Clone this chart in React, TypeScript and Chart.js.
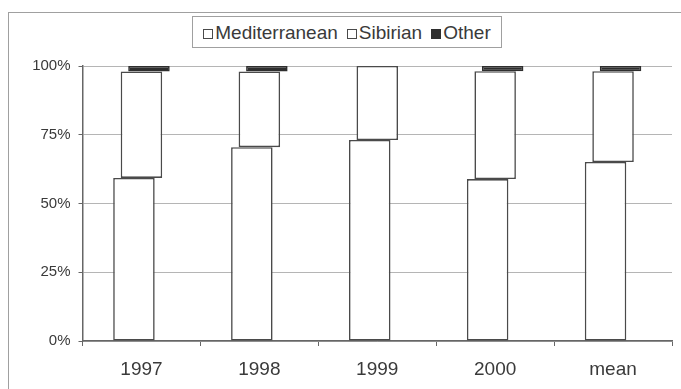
import React, { useEffect, useRef } from "react";
import { Chart, registerables } from "chart.js";

Chart.register(...registerables);

const categories = ["1997", "1998", "1999", "2000", "mean"];
const mediterranean = [59.3, 70.5, 73.1, 58.9, 65.1];
const sibirian = [38.7, 27.5, 26.9, 39.2, 33.0];
const other = [2.0, 2.0, 0, 1.9, 1.9];
const yTicks = [0, 25, 50, 75, 100];
const seriesNames = ["Mediterranean", "Sibirian", "Other"];

const FONT = "'Liberation Sans', Arial, sans-serif";
const EDGE = "#4a4a4a";
const TEXT = "#3a3a3a";
const DARK = "#2e2e2e";

export default function App() {
  const canvasRef = useRef<HTMLCanvasElement | null>(null);

  useEffect(() => {
    document.body.style.margin = "0";
    document.body.style.overflow = "hidden";
    const canvas = canvasRef.current;
    if (!canvas) return;

    const medRanges = mediterranean.map((m) => [0, m]);
    const sibRanges = mediterranean.map((m, i) => [m, m + sibirian[i]]);
    const othRanges = mediterranean.map((m, i) => [m + sibirian[i], m + sibirian[i] + other[i]]);

    const common = {
      borderWidth: 1.6,
      borderSkipped: false,
      categoryPercentage: 0.191,
      barPercentage: 5.53,
    };

    const chart = new Chart(canvas, {
      type: "bar",
      data: {
        labels: categories,
        datasets: [
          { label: seriesNames[0], data: medRanges as any, backgroundColor: "#ffffff", borderColor: EDGE, ...common },
          { label: seriesNames[1], data: sibRanges as any, backgroundColor: "#ffffff", borderColor: EDGE, ...common },
          { label: seriesNames[2], data: othRanges as any, backgroundColor: DARK, borderColor: DARK, ...common },
        ],
      },
      options: {
        responsive: false,
        animation: false,
        layout: { padding: { left: 0, right: 9, top: 66, bottom: 0 } },
        plugins: { legend: { display: false }, tooltip: { enabled: false } },
        scales: {
          x: {
            grid: {
              display: true,
              drawOnChartArea: false,
              drawTicks: true,
              tickLength: 5,
              offset: true,
              color: "#666",
              tickColor: "#666",
            },
            border: { display: true, color: "#666", width: 1.5 },
            ticks: {
              color: TEXT,
              font: { family: FONT, size: 19 },
              padding: 12,
              maxRotation: 0,
            },
            afterFit: (s: any) => {
              s.height = 48;
            },
          },
          y: {
            min: 0,
            max: 100,
            afterBuildTicks: (s: any) => {
              s.ticks = yTicks.map((v) => ({ value: v }));
            },
            grid: {
              color: "#b5b5b5",
              lineWidth: 1,
              drawTicks: true,
              tickLength: 4,
              tickColor: "#666",
            },
            border: { display: true, color: "#666", width: 1.5 },
            ticks: {
              color: TEXT,
              font: { family: FONT, size: 15 },
              padding: 8,
              callback: (v: any) => v + "%",
            },
            afterFit: (s: any) => {
              s.width = 82.5;
            },
          },
        },
      },
    });
    return () => chart.destroy();
  }, []);

  const legendItem = (name: string, fill: string, last: boolean) => (
    <div key={name} style={{ display: "flex", alignItems: "center", marginRight: last ? 0 : 9 }}>
      <span
        style={{
          display: "inline-block",
          width: 8,
          height: 8,
          border: `1.5px solid ${fill === "#fff" ? EDGE : DARK}`,
          background: fill,
          marginRight: 2,
          marginTop: 3,
        }}
      />
      <span>{name}</span>
    </div>
  );

  return (
    <div style={{ position: "relative", width: 681, height: 389, background: "#fff", overflow: "hidden" }}>
      <div
        style={{
          position: "absolute",
          left: 8,
          top: 12,
          width: 700,
          height: 400,
          borderLeft: "1px solid #a0a0a0",
          borderTop: "1px solid #a0a0a0",
        }}
      />
      <canvas ref={canvasRef} width={681} height={389} style={{ position: "absolute", left: 0, top: 0 }} />
      <div
        style={{
          position: "absolute",
          left: 192,
          top: 16,
          width: 308,
          height: 30,
          border: "1px solid #a0a0a0",
          display: "flex",
          alignItems: "center",
          justifyContent: "center",
          fontFamily: FONT,
          fontSize: 19,
          color: TEXT,
          lineHeight: 1,
          background: "#fff",
        }}
      >
        {legendItem(seriesNames[0], "#fff", false)}
        {legendItem(seriesNames[1], "#fff", false)}
        {legendItem(seriesNames[2], DARK, true)}
      </div>
    </div>
  );
}
